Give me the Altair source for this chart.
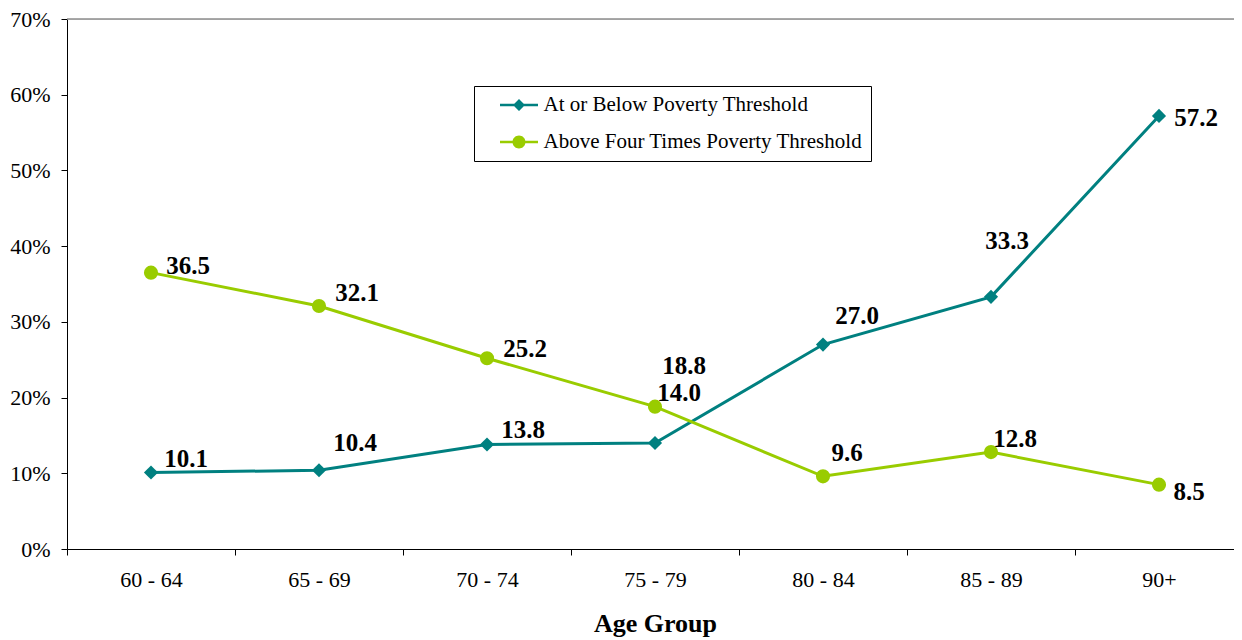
import altair as alt
import pandas as pd

age_groups = ["60 - 64", "65 - 69", "70 - 74", "75 - 79", "80 - 84", "85 - 89", "90+"]
below_poverty = [10.1, 10.4, 13.8, 14.0, 27.0, 33.3, 57.2]
above_four_times = [36.5, 32.1, 25.2, 18.8, 9.6, 12.8, 8.5]
series_names = ["At or Below Poverty Threshold", "Above Four Times Poverty Threshold"]
series_colors = ["#008080", "#99CC00"]

# label offsets (pixels) relative to each point
below_label_dx = [35, 36, 36, 24, 34, 16, 37]
below_label_dy = [-14, -27, -15, -50, -29, -56, 2]
above_label_dx = [37, 38, 38, 29, 24, 24, 30]
above_label_dy = [-7, -13, -9, -41, -23, -13, 7]

rows = []
for i, g in enumerate(age_groups):
    rows.append({"age": g, "series": series_names[0], "value": below_poverty[i],
                 "dx": below_label_dx[i], "dy": below_label_dy[i]})
for i, g in enumerate(age_groups):
    rows.append({"age": g, "series": series_names[1], "value": above_four_times[i],
                 "dx": above_label_dx[i], "dy": above_label_dy[i]})
df = pd.DataFrame(rows)

FONT = "Liberation Serif"
PLOT_W = 1167
BAND_RANGE = [0, 1176]

x_axis = alt.Axis(title="Age Group", labelAngle=0, tickBand="extent",
                  tickSize=6, labelPadding=14, labelFontSize=22, labelFont=FONT,
                  labelColor="black", domainColor="black", tickColor="black",
                  titleFont=FONT, titleFontSize=26, titleFontWeight="bold",
                  titleColor="black", titlePadding=20, grid=False, titleX=588)
y_axis = alt.Axis(title=None, values=[0, 10, 20, 30, 40, 50, 60, 70],
                  labelExpr="datum.value + '%'", tickSize=6, labelPadding=11,
                  labelFontSize=22, labelFont=FONT, labelColor="black",
                  domainColor="black", tickColor="black", grid=False)
x_enc = alt.X("age:N", sort=age_groups,
              scale=alt.Scale(type="band", paddingInner=0, paddingOuter=0, range=BAND_RANGE),
              axis=x_axis)
y_scale = alt.Scale(domain=[0, 70], nice=False)
y_enc = alt.Y("value:Q", scale=y_scale, axis=y_axis)

base = alt.Chart(df)

top_rule = alt.Chart(pd.DataFrame({"value": [70]})).mark_rule(
    color="#8c8c8c", strokeWidth=1.5).encode(y=y_enc)

layers = [top_rule]
for name, col in zip(series_names, series_colors):
    layers.append(base.transform_filter(alt.datum.series == name).mark_line(
        strokeWidth=3, color=col).encode(x=x_enc, y=y_enc))
layers.append(base.transform_filter(alt.datum.series == series_names[0]).mark_point(
    shape="diamond", filled=True, size=200, opacity=1, color=series_colors[0]).encode(x=x_enc, y=y_enc))
layers.append(base.transform_filter(alt.datum.series == series_names[1]).mark_point(
    shape="circle", filled=True, size=200, opacity=1, color=series_colors[1]).encode(x=x_enc, y=y_enc))

labels = base.mark_text(font=FONT, fontSize=25, fontWeight="bold", align="center",
                        baseline="middle", color="black",
                        dx=alt.ExprRef(expr="datum.dx"), dy=alt.ExprRef(expr="datum.dy")).encode(
    x=x_enc, y=y_enc,
    text=alt.Text("value:Q", format=".1f"))
layers.append(labels)

# legend glyphs: a line segment (thin bar) with the marker on it
diamond_path = "M-1.9,-0.125H1.9V0.125H-1.9ZM0,-0.6L0.6,0L0,0.6L-0.6,0Z"
circle_path = ("M-1.9,-0.125H1.9V0.125H-1.9Z"
               "M0.65,0A0.65,0.65,0,1,1,-0.65,0A0.65,0.65,0,1,1,0.65,0Z")

leg = alt.Legend(title=None, orient="none", legendX=407, legendY=67,
                 strokeColor="black", fillColor="white", padding=8.5,
                 symbolSize=400, symbolStrokeWidth=0, symbolOffset=26,
                 labelOffset=14, labelFontSize=21, labelFont=FONT, labelColor="black",
                 rowPadding=15, labelLimit=600, symbolOpacity=1,
                 labelExpr="datum.label + '\u00a0\u00a0\u00a0\u00a0'")

legend_layer = base.mark_point(filled=True, opacity=0).encode(
    x=x_enc, y=y_enc,
    color=alt.Color("series:N", scale=alt.Scale(domain=series_names, range=series_colors), legend=leg),
    shape=alt.Shape("series:N", scale=alt.Scale(domain=series_names, range=[diamond_path, circle_path]), legend=leg))
layers.append(legend_layer)

chart = alt.layer(*layers).properties(
    width=PLOT_W, height=530,
    autosize=alt.AutoSizeParams(type="none"),
    padding={"left": 59, "top": 11, "right": 0, "bottom": 90},
).configure_view(stroke=None).configure(font=FONT).configure_axis(
    labelFontSize=22, labelFont=FONT, labelColor="black")

chart.save("out.html", embed_options={"renderer": "svg", "actions": False})
